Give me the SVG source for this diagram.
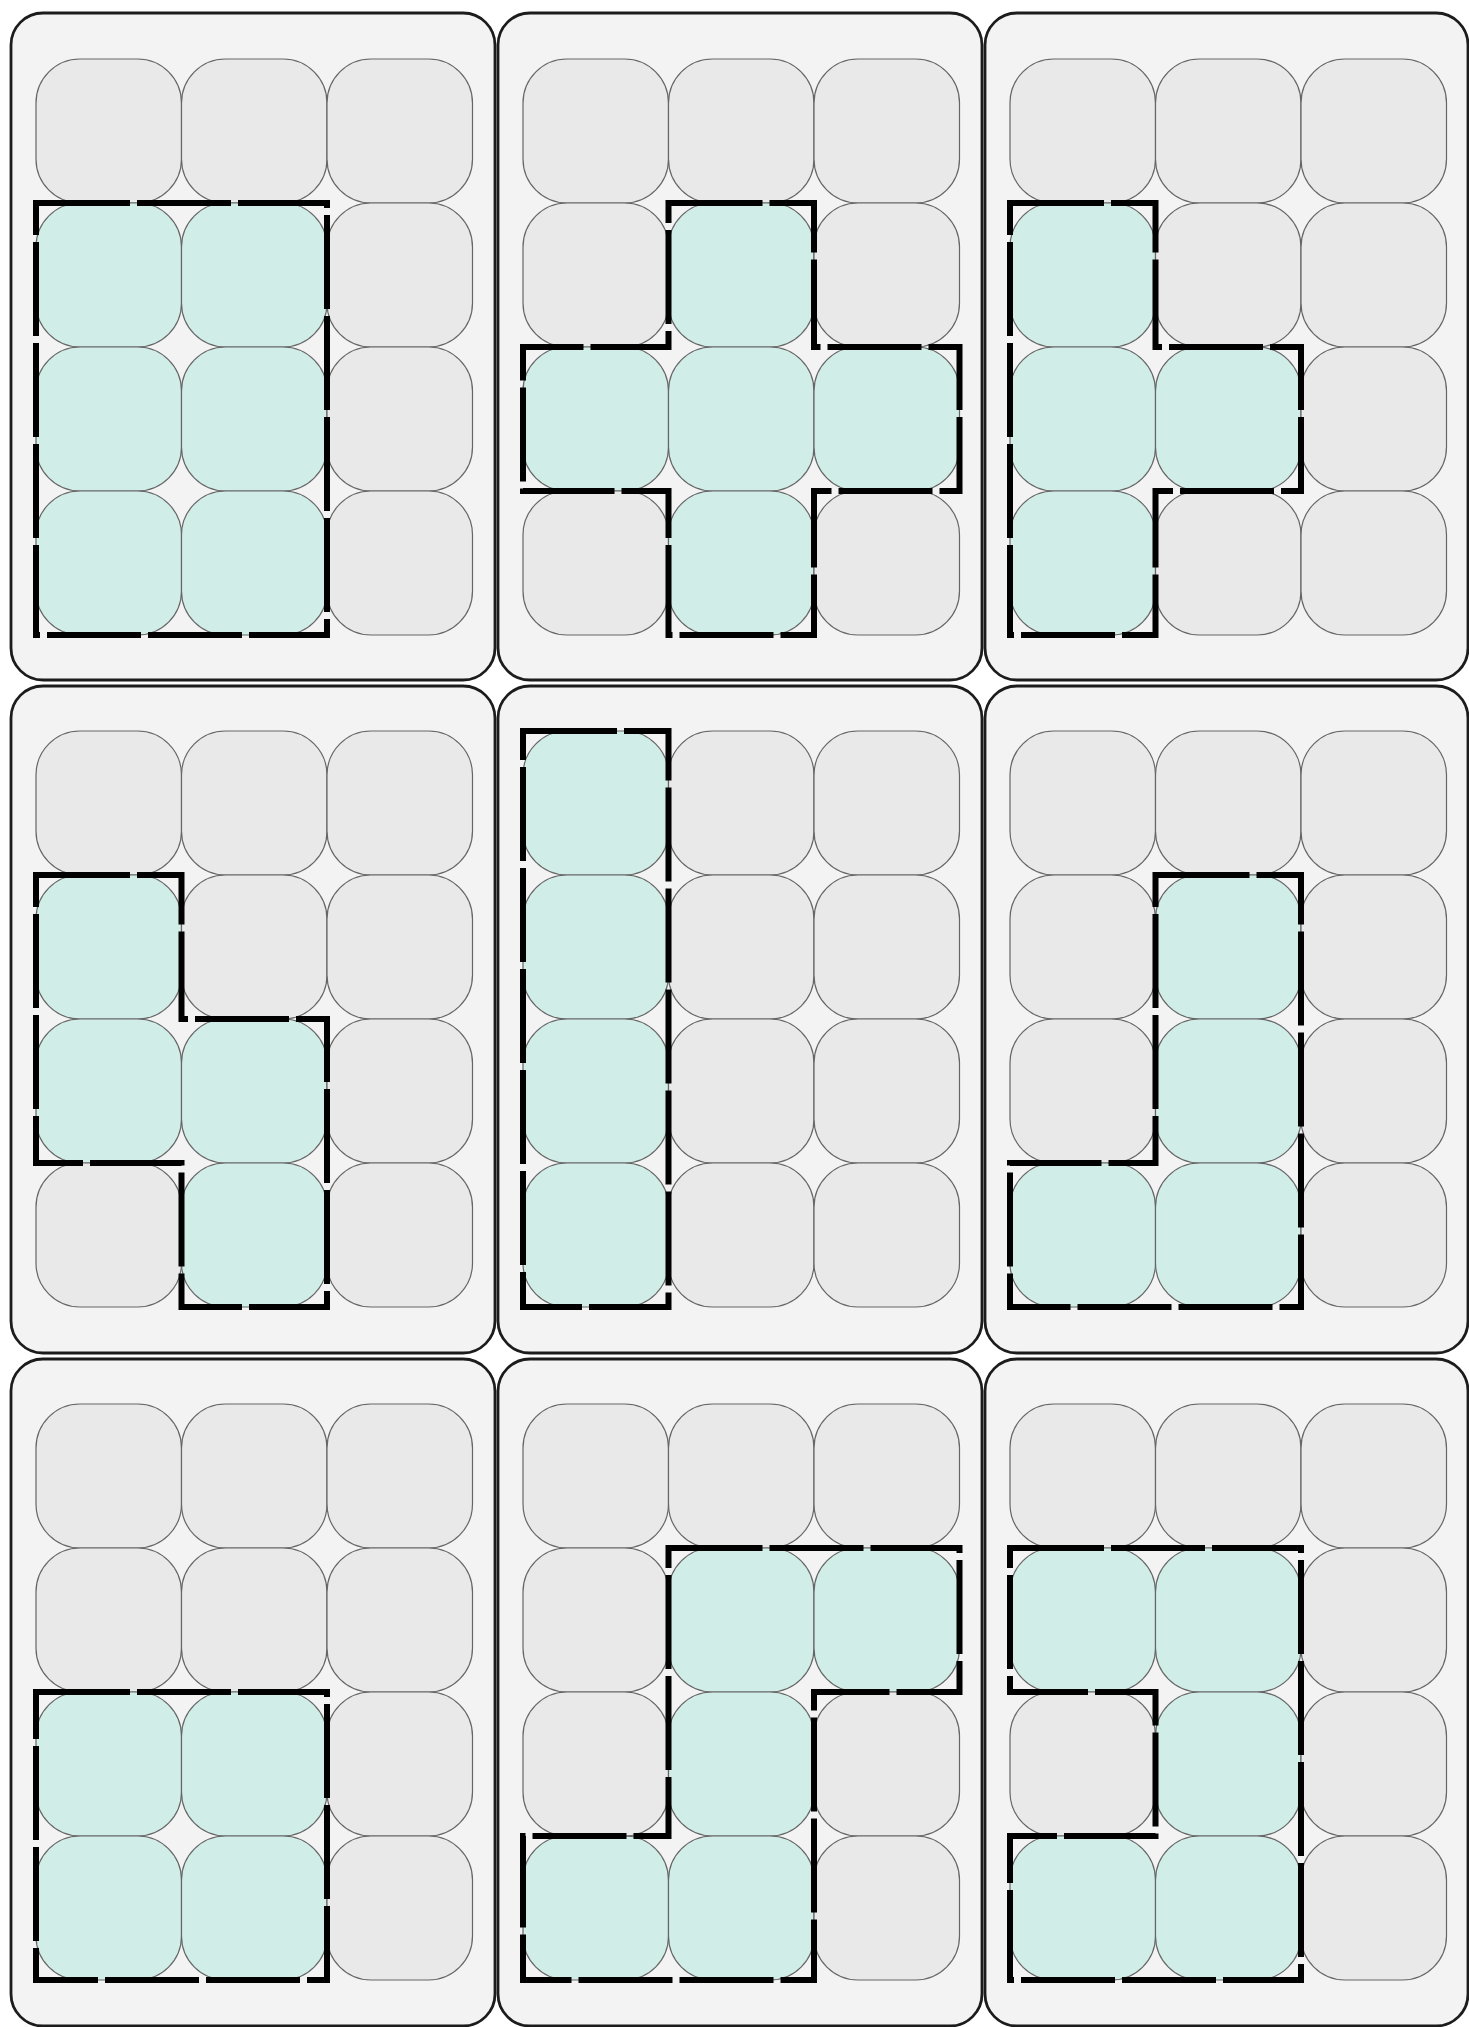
<svg xmlns="http://www.w3.org/2000/svg" width="1469" height="2027" viewBox="0 0 1469 2027">
<style>
.bg{fill:#ffffff}
.panel{fill:#f3f3f3;stroke:#1c1c1c;stroke-width:2.8}
.cell{fill:#e9e9e9;stroke:#666666;stroke-width:1.2}
.on{fill:#d1ede8}
.outline{fill:none;stroke:#000;stroke-width:6;stroke-dasharray:94 7;stroke-linejoin:miter;stroke-linecap:butt}
</style>
<defs>
<rect id="c" width="145.5" height="144" rx="44" ry="44"/>
</defs>
<rect class="bg" x="0" y="0" width="1469" height="2027"/>

<g id="panel-1">
<rect class="panel" x="11" y="13" width="484" height="667" rx="32"/>
<use href="#c" class="cell" x="36" y="59"/><use href="#c" class="cell" x="181.5" y="59"/><use href="#c" class="cell" x="327" y="59"/>
<use href="#c" class="cell on" x="36" y="203"/><use href="#c" class="cell on" x="181.5" y="203"/><use href="#c" class="cell" x="327" y="203"/>
<use href="#c" class="cell on" x="36" y="347"/><use href="#c" class="cell on" x="181.5" y="347"/><use href="#c" class="cell" x="327" y="347"/>
<use href="#c" class="cell on" x="36" y="491"/><use href="#c" class="cell on" x="181.5" y="491"/><use href="#c" class="cell" x="327" y="491"/>
<path class="outline" d="M36 203 H327 V635 H36 Z"/>
</g>

<g id="panel-2">
<rect class="panel" x="498" y="13" width="484" height="667" rx="32"/>
<use href="#c" class="cell" x="523" y="59"/><use href="#c" class="cell" x="668.5" y="59"/><use href="#c" class="cell" x="814" y="59"/>
<use href="#c" class="cell" x="523" y="203"/><use href="#c" class="cell on" x="668.5" y="203"/><use href="#c" class="cell" x="814" y="203"/>
<use href="#c" class="cell on" x="523" y="347"/><use href="#c" class="cell on" x="668.5" y="347"/><use href="#c" class="cell on" x="814" y="347"/>
<use href="#c" class="cell" x="523" y="491"/><use href="#c" class="cell on" x="668.5" y="491"/><use href="#c" class="cell" x="814" y="491"/>
<path class="outline" d="M668.5 203 H814 V347 H959.5 V491 H814 V635 H668.5 V491 H523 V347 H668.5 Z"/>
</g>

<g id="panel-3">
<rect class="panel" x="985" y="13" width="483" height="667" rx="32"/>
<use href="#c" class="cell" x="1010" y="59"/><use href="#c" class="cell" x="1155.5" y="59"/><use href="#c" class="cell" x="1301" y="59"/>
<use href="#c" class="cell on" x="1010" y="203"/><use href="#c" class="cell" x="1155.5" y="203"/><use href="#c" class="cell" x="1301" y="203"/>
<use href="#c" class="cell on" x="1010" y="347"/><use href="#c" class="cell on" x="1155.5" y="347"/><use href="#c" class="cell" x="1301" y="347"/>
<use href="#c" class="cell on" x="1010" y="491"/><use href="#c" class="cell" x="1155.5" y="491"/><use href="#c" class="cell" x="1301" y="491"/>
<path class="outline" d="M1010 203 H1155.5 V347 H1301 V491 H1155.5 V635 H1010 Z"/>
</g>

<g id="panel-4">
<rect class="panel" x="11" y="686" width="484" height="667" rx="32"/>
<use href="#c" class="cell" x="36" y="731"/><use href="#c" class="cell" x="181.5" y="731"/><use href="#c" class="cell" x="327" y="731"/>
<use href="#c" class="cell on" x="36" y="875"/><use href="#c" class="cell" x="181.5" y="875"/><use href="#c" class="cell" x="327" y="875"/>
<use href="#c" class="cell on" x="36" y="1019"/><use href="#c" class="cell on" x="181.5" y="1019"/><use href="#c" class="cell" x="327" y="1019"/>
<use href="#c" class="cell" x="36" y="1163"/><use href="#c" class="cell on" x="181.5" y="1163"/><use href="#c" class="cell" x="327" y="1163"/>
<path class="outline" d="M36 875 H181.5 V1019 H327 V1307 H181.5 V1163 H36 Z"/>
</g>

<g id="panel-5">
<rect class="panel" x="498" y="686" width="484" height="667" rx="32"/>
<use href="#c" class="cell on" x="523" y="731"/><use href="#c" class="cell" x="668.5" y="731"/><use href="#c" class="cell" x="814" y="731"/>
<use href="#c" class="cell on" x="523" y="875"/><use href="#c" class="cell" x="668.5" y="875"/><use href="#c" class="cell" x="814" y="875"/>
<use href="#c" class="cell on" x="523" y="1019"/><use href="#c" class="cell" x="668.5" y="1019"/><use href="#c" class="cell" x="814" y="1019"/>
<use href="#c" class="cell on" x="523" y="1163"/><use href="#c" class="cell" x="668.5" y="1163"/><use href="#c" class="cell" x="814" y="1163"/>
<path class="outline" d="M523 731 H668.5 V1307 H523 Z"/>
</g>

<g id="panel-6">
<rect class="panel" x="985" y="686" width="483" height="667" rx="32"/>
<use href="#c" class="cell" x="1010" y="731"/><use href="#c" class="cell" x="1155.5" y="731"/><use href="#c" class="cell" x="1301" y="731"/>
<use href="#c" class="cell" x="1010" y="875"/><use href="#c" class="cell on" x="1155.5" y="875"/><use href="#c" class="cell" x="1301" y="875"/>
<use href="#c" class="cell" x="1010" y="1019"/><use href="#c" class="cell on" x="1155.5" y="1019"/><use href="#c" class="cell" x="1301" y="1019"/>
<use href="#c" class="cell on" x="1010" y="1163"/><use href="#c" class="cell on" x="1155.5" y="1163"/><use href="#c" class="cell" x="1301" y="1163"/>
<path class="outline" d="M1155.5 875 H1301 V1307 H1010 V1163 H1155.5 Z"/>
</g>

<g id="panel-7">
<rect class="panel" x="11" y="1359" width="484" height="667" rx="32"/>
<use href="#c" class="cell" x="36" y="1404"/><use href="#c" class="cell" x="181.5" y="1404"/><use href="#c" class="cell" x="327" y="1404"/>
<use href="#c" class="cell" x="36" y="1548"/><use href="#c" class="cell" x="181.5" y="1548"/><use href="#c" class="cell" x="327" y="1548"/>
<use href="#c" class="cell on" x="36" y="1692"/><use href="#c" class="cell on" x="181.5" y="1692"/><use href="#c" class="cell" x="327" y="1692"/>
<use href="#c" class="cell on" x="36" y="1836"/><use href="#c" class="cell on" x="181.5" y="1836"/><use href="#c" class="cell" x="327" y="1836"/>
<path class="outline" d="M36 1692 H327 V1980 H36 Z"/>
</g>

<g id="panel-8">
<rect class="panel" x="498" y="1359" width="484" height="667" rx="32"/>
<use href="#c" class="cell" x="523" y="1404"/><use href="#c" class="cell" x="668.5" y="1404"/><use href="#c" class="cell" x="814" y="1404"/>
<use href="#c" class="cell" x="523" y="1548"/><use href="#c" class="cell on" x="668.5" y="1548"/><use href="#c" class="cell on" x="814" y="1548"/>
<use href="#c" class="cell" x="523" y="1692"/><use href="#c" class="cell on" x="668.5" y="1692"/><use href="#c" class="cell" x="814" y="1692"/>
<use href="#c" class="cell on" x="523" y="1836"/><use href="#c" class="cell on" x="668.5" y="1836"/><use href="#c" class="cell" x="814" y="1836"/>
<path class="outline" d="M668.5 1548 H959.5 V1692 H814 V1980 H523 V1836 H668.5 Z"/>
</g>

<g id="panel-9">
<rect class="panel" x="985" y="1359" width="483" height="667" rx="32"/>
<use href="#c" class="cell" x="1010" y="1404"/><use href="#c" class="cell" x="1155.5" y="1404"/><use href="#c" class="cell" x="1301" y="1404"/>
<use href="#c" class="cell on" x="1010" y="1548"/><use href="#c" class="cell on" x="1155.5" y="1548"/><use href="#c" class="cell" x="1301" y="1548"/>
<use href="#c" class="cell" x="1010" y="1692"/><use href="#c" class="cell on" x="1155.5" y="1692"/><use href="#c" class="cell" x="1301" y="1692"/>
<use href="#c" class="cell on" x="1010" y="1836"/><use href="#c" class="cell on" x="1155.5" y="1836"/><use href="#c" class="cell" x="1301" y="1836"/>
<path class="outline" d="M1010 1548 H1301 V1980 H1010 V1836 H1155.5 V1692 H1010 Z"/>
</g>
</svg>
